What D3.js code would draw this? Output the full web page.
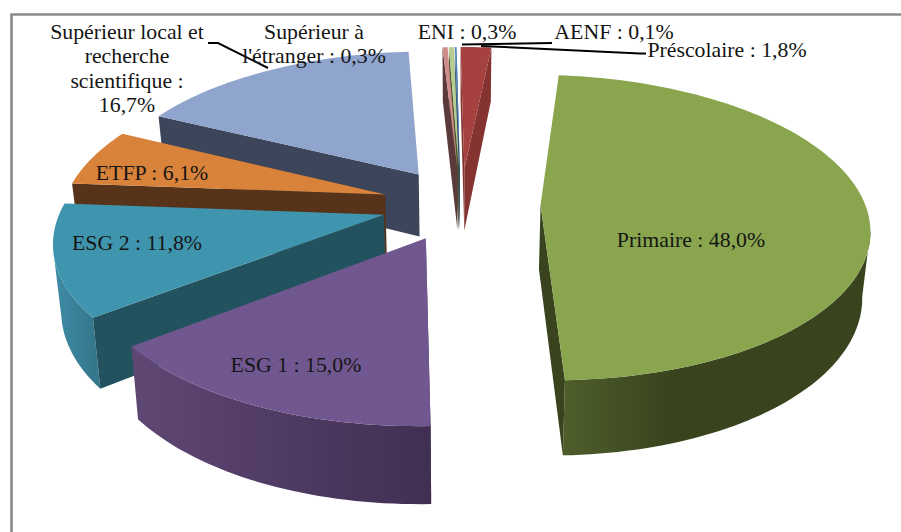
<!DOCTYPE html>
<html><head><meta charset="utf-8">
<script src="https://cdnjs.cloudflare.com/ajax/libs/d3/7.8.5/d3.min.js"></script>
<style>html,body{margin:0;padding:0;background:#fff}svg{display:block}
text{font-family:"Liberation Serif",serif;font-size:21.8px;fill:#151515}</style>
</head><body><svg id="c" width="901" height="532"></svg>
<script>
const categories=["Préscolaire","Primaire","ESG 1","ESG 2","ETFP","Supérieur local et recherche scientifique","Supérieur à l'étranger","ENI","AENF"];
const values=[1.8,48.0,15.0,11.8,6.1,16.7,0.3,0.3,0.1];
const topColors=["#a5423f","#89a54e","#71578f","#4095ae","#d8823a","#8fa5cd","#d08c8a","#b6cb8f","#4f81bd"];
const outerLight=["#a5423f","#4f5f2b","#5f4774","#3f8ca6","#7a4a20","#4f5b75","#6a4a4a","#5a6a3a","#3a5f8a"];
const outerDark=["#843331","#39441e","#412f52","#35788e","#57331a","#3c4559","#5a3a3a","#46542a","#2c4a70"];
const cutColors=["#843331","#39441e","#412f52","#23525f","#57331a","#3c4559","#5a3a3a","#46542a","#2c4a70"];
const labelLines=[["Préscolaire : 1,8%"],["Primaire : 48,0%"],["ESG 1 : 15,0%"],["ESG 2 : 11,8%"],["ETFP : 6,1%"],["Supérieur local et","recherche","scientifique :","16,7%"],["Supérieur à","l'étranger : 0,3%"],["ENI : 0,3%"],["AENF : 0,1%"]];
const labelX=[727,691,296,137,152,127,314,467,614];
const labelY=[50,240,365,243,173,32,32,32,32];
const leaders=[[[481,46],[640,53.5],[646,53.5]],[[208,43],[218,43],[268,68]],[[462,44.5],[552,43]]];

const svg=d3.select("#c");
const x0=461,y0=204,Rx=323,Ry=149,k=0.147,explode=0.246,depth=64,shrink=0.98,shear=4,tilt=-3;
const camY=1/k;
const project=(X,Y)=>{const w=1-k*Y;return[x0+(Rx*X+shear*Y)/w,y0+(Ry*Y+tilt*X)/w];};
const lower=(X,Y)=>{const w=1-k*Y,p=project(X,Y);return[x0+(p[0]-x0)*shrink,p[1]+depth/w];};
const facing=(P,n)=>(0-P[0])*n[0]+(camY-P[1])*n[1]>0;
const pie=d3.pie().sort(null).value(d=>d)(values);
const line=d3.line();

svg.append("path").attr("d",line([[11.5,532],[11.5,14.5],[901,14.5]])).attr("fill","none").attr("stroke","#8a8a8a").attr("stroke-width",2.6);
const defs=svg.append("defs");

const order=pie.map((d,i)=>i).sort((a,b)=>{
  const m=i=>(pie[i].startAngle+pie[i].endAngle)/2;
  return -Math.cos(m(a))-(-Math.cos(m(b)));
});
order.forEach(i=>{
  const p=pie[i],mid=(p.startAngle+p.endAngle)/2;
  const ox=explode*Math.sin(mid),oy=-explode*Math.cos(mid);
  const n=Math.max(2,Math.ceil((p.endAngle-p.startAngle)*40));
  const angs=d3.range(n+1).map(j=>p.startAngle+(p.endAngle-p.startAngle)*j/n);
  const pt=a=>[ox+Math.sin(a),oy-Math.cos(a)];
  const arcPts=angs.map(pt),apex=[ox,oy];
  const topArc=arcPts.map(q=>project(...q));
  const g=svg.append("g");
  const gid="o"+i;
  const xs=topArc.map(q=>q[0]);
  const gr=defs.append("linearGradient").attr("id",gid).attr("gradientUnits","userSpaceOnUse")
    .attr("x1",d3.min(xs)).attr("x2",d3.max(xs)).attr("y1",0).attr("y2",0);
  const leftSide=mid>Math.PI;
  gr.append("stop").attr("offset",0).attr("stop-color",outerLight[i]);
  gr.append("stop").attr("offset",leftSide?1:0.35).attr("stop-color",outerDark[i]);
  const front=angs.filter(a=>facing(pt(a),[Math.sin(a),-Math.cos(a)])).map(pt);
  if(front.length>1){
    g.append("path").attr("d",line(front.map(q=>project(...q)).concat(front.map(q=>lower(...q)).reverse()))+"Z").attr("fill",`url(#${gid})`);
  }
  [[p.startAngle,-1],[p.endAngle,1]].forEach(([a,s])=>{
    if(!facing(apex,[s*Math.cos(a),s*Math.sin(a)]))return;
    const q=pt(a);
    g.append("path").attr("d",line([project(...apex),project(...q),lower(...q),lower(...apex)])+"Z").attr("fill",cutColors[i]);
  });
  g.append("path").attr("d",line([project(...apex)].concat(topArc))+"Z").attr("fill",topColors[i]);
});

leaders.forEach(l=>svg.append("path").attr("d",line(l)).attr("fill","none").attr("stroke","#000").attr("stroke-width",2));

labelLines.forEach((ls,i)=>{
  const t=svg.append("text").attr("text-anchor","middle");
  ls.forEach((s,j)=>t.append("tspan").attr("x",labelX[i]).attr("y",labelY[i]+j*24.5+6.5).text(s));
});
</script></body></html>
